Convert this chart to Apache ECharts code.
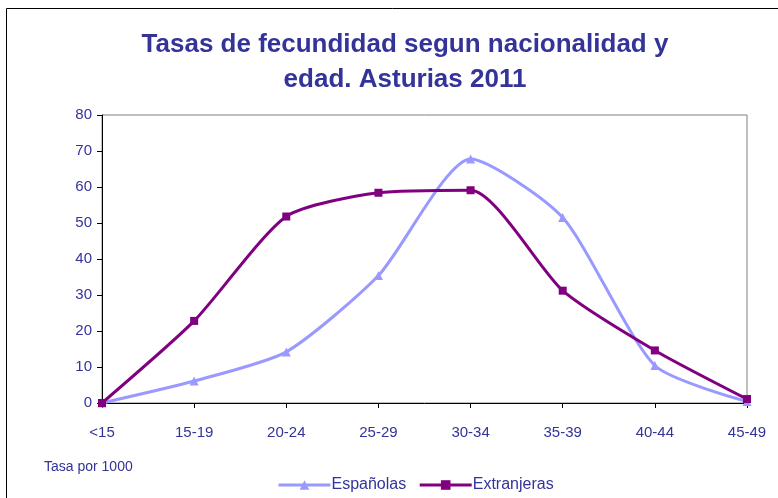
<!DOCTYPE html>
<html>
<head>
<meta charset="utf-8">
<script src="https://cdn.jsdelivr.net/npm/echarts@6/dist/echarts.min.js"></script>
<style>
  html, body { margin: 0; padding: 0; background: #fff; }
  #chart { width: 778px; height: 498px; }
</style>
</head>
<body>
<div id="chart"></div>
<script>
// grupos de edad
var categorias = ['<15', '15-19', '20-24', '25-29', '30-34', '35-39', '40-44', '45-49']
// tasas por 1000
var espanolas = [0, 6.1, 14.2, 35.4, 67.8, 51.5, 10.4, 0.4]
var extranjeras = [0, 22.8, 51.8, 58.4, 59.1, 31.2, 14.6, 1.1]
var ticksY = [0, 10, 20, 30, 40, 50, 60, 70, 80]

var azul = '#333399'
var fuente = "'Liberation Sans', Arial, sans-serif"

var chart = echarts.init(document.getElementById('chart'))
chart.setOption({
  animation: false,
  title: {
    text: 'Tasas de fecundidad segun nacionalidad y\nedad. Asturias 2011',
    left: 400,
    textAlign: 'center',
    top: 22,
    textStyle: {
      color: azul,
      fontFamily: fuente,
      fontWeight: 'bold',
      fontSize: 26,
      lineHeight: 35
    }
  },
  graphic: [
    {
      type: 'rect',
      shape: { x: 6.5, y: 8.5, width: 800, height: 520 },
      style: { fill: 'none', stroke: '#000', lineWidth: 1 },
      silent: true
    },
    {
      type: 'text',
      left: 44,
      top: 460,
      style: { text: 'Tasa por 1000', fill: azul, font: '14px ' + fuente }
    }
  ],
  legend: {
    top: 472,
    left: 272,
    itemWidth: 52,
    itemHeight: 12,
    itemGap: 12,
    lineStyle: { width: 3 },
    textStyle: { color: azul, fontFamily: fuente, fontSize: 16, padding: [0, 0, 0, -4] },
    data: ['Españolas', 'Extranjeras']
  },
  grid: { left: 102, right: 31, top: 115, bottom: 95, show: true, borderColor: '#808080', borderWidth: 1 },
  xAxis: {
    type: 'category',
    boundaryGap: false,
    data: categorias,
    axisLine: { lineStyle: { color: '#000', width: 1 } },
    axisTick: { show: true, length: 5, alignWithLabel: true, lineStyle: { color: '#000' } },
    axisLabel: { color: azul, fontFamily: fuente, fontSize: 15, margin: 22 },
    splitLine: { show: false }
  },
  yAxis: {
    type: 'value',
    min: ticksY[0],
    max: ticksY[ticksY.length - 1],
    interval: 10,
    axisLine: { show: true, lineStyle: { color: '#000', width: 1 } },
    axisTick: { show: true, length: 5, lineStyle: { color: '#000' } },
    axisLabel: { color: azul, fontFamily: fuente, fontSize: 15, margin: 10 },
    splitLine: { show: false }
  },
  series: [
    {
      name: 'Españolas',
      type: 'line',
      data: espanolas,
      smooth: 0.22,
      symbol: 'triangle',
      symbolSize: 9,
      color: '#9999FF',
      lineStyle: { width: 3, color: '#9999FF' },
      itemStyle: { color: '#9999FF' }
    },
    {
      name: 'Extranjeras',
      type: 'line',
      data: extranjeras,
      smooth: 0.22,
      symbol: 'rect',
      symbolSize: 8,
      color: '#800080',
      lineStyle: { width: 3, color: '#800080' },
      itemStyle: { color: '#800080' }
    }
  ]
})
</script>
</body>
</html>
